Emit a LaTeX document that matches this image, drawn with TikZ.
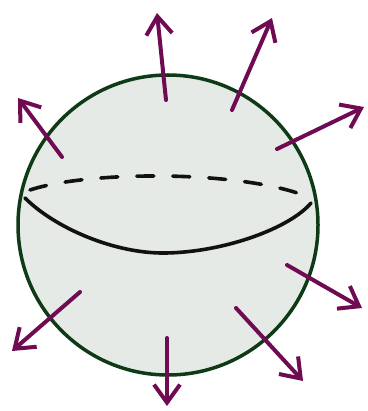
\documentclass[tikz,border=0pt]{standalone}
\usetikzlibrary{arrows.meta}
\definecolor{fxrim}{HTML}{0E3A16}
\definecolor{fxfill}{HTML}{E6EAE7}
\definecolor{fxink}{HTML}{111111}
\definecolor{fxflux}{HTML}{6E0B52}
\tikzset{
  fxsphere/.style={
    circle, draw=fxrim, fill=fxfill, line width=3.5pt,
    minimum size=300pt, inner sep=0pt},
  fxequator/.style={draw=fxink, line width=3.6pt},
  fxback/.style={fxequator, dash pattern=on 17pt off 19pt},
  fxarrow/.style={
    draw=fxflux, line width=4pt,
    -{Straight Barb[length=18pt, width=26pt, line width=4pt]}},
  every picture/.style={line cap=round, line join=round},
}
\begin{document}
\begin{tikzpicture}[x=1pt, y=-1pt]

% Canvas, in pixel units of the reference.
\useasboundingbox (0,0) rectangle (367,411);

% The sphere.
\node[fxsphere] (sphere) at (168,225) {};

% Equator: hidden half dashed, near half solid.
\draw[fxback] (30,190) .. controls (90,170) and (250,170) .. (313,199);
\draw[fxequator] (25,198) .. controls (55,228) and (115,254) .. (166,253)
  .. controls (225,252) and (290,228) .. (311,203);

% Outward flux: each arrow starts inside and ends past the rim.
\foreach \i/\sx/\sy/\ex/\ey in {
    1/166/100/157/13, 2/232/110/272/18, 3/277/149/364/107,
    4/62/157/18/98, 5/287/265/362/308, 6/236/308/303/381,
    7/167/338/167/406, 8/80/292/12/351} {
  \coordinate (s\i) at (\sx,\sy);
  \coordinate (e\i) at (\ex,\ey);
  \draw[fxarrow] (s\i) -- (e\i);
}

\end{tikzpicture}
\end{document}
